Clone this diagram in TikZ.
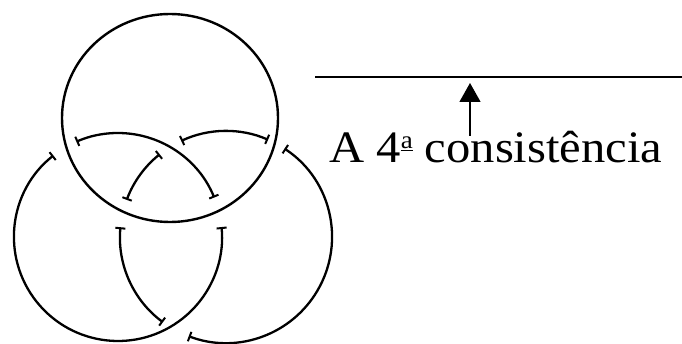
\documentclass[tikz,border=0pt]{standalone}
\usepackage{fontspec}
\setmainfont{Liberation Serif}
\usetikzlibrary{arrows.meta}
\begin{document}
\begin{tikzpicture}[x=1pt,y=1pt,
  ring/.style={line width=2.4pt, black},
  strand/.style={line width=2.3pt, black, {Bar[width=10pt,line width=2pt]}-{Bar[width=10pt,line width=2pt]}},
  rule/.style={line width=1.5pt},
  pointer/.style={line width=1.3pt, -{Triangle[length=19pt,width=21pt]}}
]
\useasboundingbox (0,0) rectangle (682,343);
\coordinate (ca) at (170,225);
\coordinate (cb) at (118,106);
\coordinate (cc) at (226,106);
% top ring
\draw[ring] (ca) ellipse[x radius=108, y radius=104];
% left ring
\draw[strand] (cb) ++(128.4:104) arc[start angle=128.4, end angle=365.5, radius=104];
\draw[strand] (cb) ++(22.3:104) arc[start angle=22.3, end angle=113.6, radius=104];
% right ring
\draw[strand] (cc) ++(56.5:106) arc[start angle=56.5, end angle=-110.6, radius=106];
\draw[strand] (cc) ++(233.5:106) arc[start angle=233.5, end angle=174.7, radius=106];
\draw[strand] (cc) ++(159.5:106) arc[start angle=159.5, end angle=128.7, radius=106];
\draw[strand] (cc) ++(115:106) arc[start angle=115, end angle=66.6, radius=106];
% label
\coordinate (l1) at (315,266);
\coordinate (l2) at (682,266);
\draw[rule] (l1) -- (l2);
\node[anchor=base west, inner sep=0] (lbl) at (329,180) {\fontsize{45}{45}\selectfont\scalebox{1.08}[1]{A 4\raisebox{14pt}{\fontsize{25}{25}\selectfont\underline{a}} consistência}};
\coordinate (as) at (470,207);
\coordinate (at) at (470,260);
\draw[pointer] (as) -- (at);
\end{tikzpicture}
\end{document}
